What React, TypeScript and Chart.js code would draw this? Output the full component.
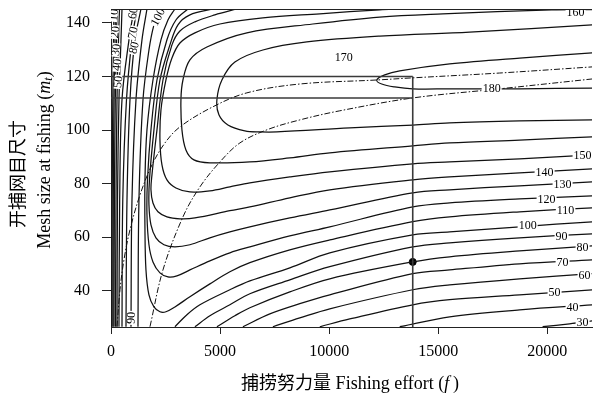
import React, { useEffect, useRef } from 'react';
import { Chart, registerables } from 'chart.js';

Chart.register(...registerables);

// ---- axes ----
const X_MIN = 0;
const X_MAX = 22050;
const Y_MIN = 26.5;
const Y_MAX = 145.2;
const xTickValues = [0, 5000, 10000, 15000, 20000];
const yTickValues = [40, 60, 80, 100, 120, 140];

// ---- rising (left) branches of the low isopleths: effort values at shared mesh sizes ----
const riseM = [26.6, 74.0, 111.3, 133.7, 145.2];
const rise10 = [46, 55, 82, 115, 137];
const rise20 = [92, 105, 137, 183, 206];
const rise30 = [137, 156, 197, 252, 275];
const rise40 = [206, 229, 275, 344, 389];
const rise50 = [275, 298, 366, 458, 504];
const rise60 = [366, 398, 504, 824, 1053];
const rise70 = [504, 540, 710, 962, 1191];
const rise80 = [687, 733, 870, 1099, 1374];
const rise90 = [916, 962, 1145, 1420, 1649];
const rise100F = [1237, 1282, 1466, 1740, 1969, 2244];
const rise100M = [26.6, 74.0, 111.3, 129.9, 139.3, 145.2];

// ---- right (falling) branches: [effort, mesh] ----
const fall30 = [[19786, 26.6], [21022, 27.7], [22076, 28.8]];
const fall40 = [[13236, 26.6], [15526, 30.3], [18732, 32.9], [22076, 34.8]];
const fall50 = [[9572, 26.6], [10946, 29.5], [13832, 34.8], [15526, 36.7], [18732, 38.5], [22076, 40.4]];
const fall60 = [[7420, 26.6], [8656, 29.9], [10030, 33.3], [13832, 40.4], [15526, 42.2], [18732, 44.5], [22076, 46.4]];
const fall70 = [[6046, 26.6], [7282, 31.4], [8656, 35.2], [10030, 38.5], [13832, 46.4], [15526, 47.8], [18732, 50.1], [22076, 51.6]];
const fall80 = [[4855, 26.6], [5679, 30.7], [6366, 33.7], [8198, 39.6], [10030, 44.5], [13832, 50.8], [15526, 52.7], [18732, 54.9], [22076, 56.8]];
const fall90 = [[3847, 26.6], [4534, 30.7], [5450, 34.8], [6366, 38.9], [8198, 44.1], [10030, 49.0], [13832, 56.4], [15526, 57.9], [18732, 59.8], [22076, 61.3]];
const fall100 = [[2931, 26.6], [3481, 31.1], [4076, 34.8], [5450, 40.4], [6366, 43.7], [8198, 48.6], [10030, 54.2], [13832, 60.9], [15526, 62.0], [18732, 63.9], [22076, 65.8]];

// ---- C-shaped isopleths: [effort, mesh] ----
const iso110 = [[2931, 145.2], [2611, 141.1], [2290, 133.7], [1924, 118.7], [1649, 100.1], [1557, 81.4], [1557, 62.8], [1603, 47.8], [1740, 38.5], [1969, 34.0], [2244, 32.2], [2519, 32.2], [2931, 34.0], [3618, 37.8], [4534, 42.6], [5450, 47.1], [6366, 50.5], [8198, 55.3], [10030, 59.0], [13832, 65.8], [15526, 67.6], [18732, 69.5], [22076, 71.0]];
const iso120 = [[3527, 145.2], [2977, 141.1], [2565, 133.7], [2107, 118.7], [1832, 100.1], [1672, 81.4], [1649, 68.4], [1740, 57.2], [1924, 50.8], [2244, 46.7], [2611, 45.2], [3023, 45.6], [3618, 47.8], [4534, 51.2], [5450, 54.2], [6366, 56.4], [8198, 60.5], [10030, 63.9], [13832, 71.3], [15526, 72.8], [18732, 74.3], [22076, 75.5]];
const iso130 = [[4672, 145.2], [3618, 143.0], [3069, 139.3], [2702, 131.8], [2244, 118.7], [1969, 100.1], [1763, 81.4], [1740, 72.1], [1832, 64.6], [2061, 59.8], [2427, 57.2], [2931, 56.4], [3618, 57.2], [4534, 59.8], [5450, 62.0], [6366, 63.9], [8198, 67.2], [10030, 70.2], [13832, 76.6], [15526, 77.7], [18732, 79.2], [22076, 80.7]];
const iso140 = [[5771, 145.2], [4763, 143.0], [3847, 140.4], [3160, 137.0], [2794, 131.8], [2382, 118.7], [2107, 100.1], [1878, 83.3], [1832, 77.7], [1924, 72.8], [2153, 69.5], [2565, 67.6], [3160, 66.9], [3847, 67.2], [5450, 69.9], [6366, 71.3], [8198, 74.7], [10030, 77.7], [13832, 81.4], [15526, 82.5], [18732, 84.0], [22076, 85.5]];
const iso150 = [[13236, 145.2], [12320, 144.9], [9572, 143.4], [6962, 141.9], [4992, 139.6], [3847, 136.3], [3160, 132.5], [2794, 126.9], [2519, 118.7], [2290, 107.5], [2244, 96.3], [2336, 87.0], [2565, 81.4], [2977, 78.4], [3618, 76.9], [4534, 77.3], [5450, 78.8], [6366, 80.3], [8198, 82.5], [10030, 84.4], [13832, 87.4], [15526, 88.1], [18732, 89.3], [22076, 90.8]];
const iso160 = [[22076, 145.0], [20198, 144.9], [15206, 143.4], [12320, 142.2], [9252, 139.6], [6229, 136.3], [4397, 131.0], [3618, 126.2], [3298, 118.7], [3206, 111.3], [3252, 100.1], [3435, 92.6], [3801, 88.9], [4534, 87.8], [6366, 88.1], [8198, 89.6], [10030, 91.5], [13832, 94.1], [15526, 95.2], [18732, 96.3], [22076, 97.5]];
const iso170 = [[22076, 139.3], [16442, 136.6], [12320, 135.1], [8977, 132.9], [6962, 129.9], [5679, 125.4], [5084, 118.7], [4855, 111.3], [4947, 105.7], [5359, 101.9], [6137, 99.7], [6824, 99.3], [7603, 99.3], [10946, 100.8], [13832, 101.9], [15526, 102.7], [18732, 103.4], [22076, 103.8]];
const iso180 = [[22076, 128.8], [18732, 126.9], [15526, 124.7], [13236, 122.1], [12549, 120.6], [12183, 118.7], [12412, 117.2], [13007, 116.1], [13832, 115.4], [15526, 115.4], [18732, 115.4], [22076, 115.7]];

// ---- dash-dot curves ----
const dashCurveA = [[1786, 26.6], [2382, 47.8], [3298, 67.6], [4076, 78.8], [4992, 88.1], [5908, 95.2], [7145, 100.1], [8656, 103.8], [10488, 107.2], [13832, 112.0], [17816, 115.4], [22076, 119.1]];
const dashCurveB = [[275, 26.6], [412, 40.4], [595, 51.6], [870, 62.8], [1328, 75.8], [1878, 87.0], [2473, 95.2], [3160, 101.2], [4672, 108.7], [6229, 113.9], [8656, 117.2], [12183, 118.7], [13832, 119.5], [17816, 121.3], [22076, 123.6]];

// ---- reference lines and point ----
const refEffort = 13832;
const refMeshHigh = 120;
const refMeshLow = 112;
const refPoint = [13832, 50.8];

// ---- contour labels ----
const labelText = ['10', '20', '30', '40', '50', '60', '70', '80', '100', '90', '150', '140', '130', '120', '110', '100', '90', '80', '70', '60', '50', '40', '30', '160', '170', '180'];
const labelF = [137, 183, 229, 275, 321, 1008, 1008, 1053, 2153, 916, 21618, 19877, 20702, 19969, 20839, 19099, 20656, 21618, 20702, 21709, 20335, 21160, 21618, 21297, 10671, 17450];
const labelM = [143.0, 136.6, 129.9, 124.3, 118.0, 143.7, 136.3, 130.7, 142.2, 29.9, 90.4, 84.4, 79.9, 74.3, 70.2, 64.6, 60.5, 56.4, 50.8, 45.6, 39.3, 34.0, 28.1, 144.1, 127.3, 115.4];
const labelRot = [-84, -84, -84, -84, -84, -80, -78, -75, -62, -88, 0, 0, 0, 0, 0, 0, 0, 0, 0, 0, 0, 0, 0, 0, 0, 0];
const labelSize = [12, 12, 12, 12, 12, 12, 12, 12, 12, 12, 12, 12, 12, 12, 12, 12, 12, 12, 12, 12, 12, 12, 12, 12, 12, 12];

const SERIF = '"Liberation Serif", "Times New Roman", "Noto Sans CJK SC", serif';

function pairs(list: number[][]) {
  return list.map(([x, y]) => ({ x, y }));
}
function zipF(fs: number[], ms: number[]) {
  return fs.map((f, i) => ({ x: f, y: ms[i] }));
}

function contour(data: { x: number; y: number }[]) {
  return {
    type: 'scatter' as const,
    data,
    showLine: true,
    pointRadius: 0,
    borderColor: '#111',
    borderWidth: 1.25,
    tension: 0.35,
    fill: false,
  };
}

type Run = { t: string; font: string; dy?: number };
function drawRuns(ctx: CanvasRenderingContext2D, runs: Run[], cx: number, cy: number) {
  let total = 0;
  const widths = runs.map((r) => {
    ctx.font = r.font;
    const w = ctx.measureText(r.t).width;
    total += w;
    return w;
  });
  let x = cx - total / 2;
  ctx.textAlign = 'left';
  ctx.textBaseline = 'middle';
  runs.forEach((r, i) => {
    ctx.font = r.font;
    ctx.fillText(r.t, x, cy + (r.dy || 0));
    x += widths[i];
  });
}

const labelPlugin = {
  id: 'contourLabels',
  afterDatasetsDraw(chart: any) {
    const { ctx, chartArea, scales } = chart;
    ctx.save();
    ctx.beginPath();
    ctx.rect(chartArea.left, chartArea.top, chartArea.right - chartArea.left, chartArea.bottom - chartArea.top);
    ctx.clip();
    ctx.textAlign = 'center';
    ctx.textBaseline = 'middle';
    labelText.forEach((t, i) => {
      const px = scales.x.getPixelForValue(labelF[i]);
      const py = scales.y.getPixelForValue(labelM[i]);
      ctx.save();
      ctx.translate(px, py);
      ctx.rotate((labelRot[i] * Math.PI) / 180);
      ctx.font = `${labelSize[i]}px ${SERIF}`;
      const w = ctx.measureText(t).width;
      const h = labelSize[i] * 0.62;
      ctx.fillStyle = '#fff';
      ctx.fillRect(-w / 2 - 1, -h / 2, w + 2, h);
      ctx.fillStyle = '#000';
      ctx.fillText(t, 0, 0.5);
      ctx.restore();
    });
    ctx.restore();
  },
};

const framePlugin = {
  id: 'frameAndTitles',
  afterDraw(chart: any) {
    const { ctx, chartArea } = chart;
    ctx.save();
    ctx.strokeStyle = '#222';
    ctx.lineWidth = 1;
    ctx.beginPath();
    ctx.moveTo(chartArea.left, chartArea.top + 0.5);
    ctx.lineTo(chartArea.right, chartArea.top + 0.5);
    ctx.stroke();

    ctx.fillStyle = '#000';
    // x title
    drawRuns(
      ctx,
      [
        { t: '捕捞努力量 Fishing effort (', font: `18px ${SERIF}` },
        { t: 'f', font: `italic 18px ${SERIF}` },
        { t: '\u2009)', font: `18px ${SERIF}` },
      ],
      350,
      384
    );
    // y titles (rotated)
    ctx.save();
    ctx.translate(19, 174);
    ctx.rotate(-Math.PI / 2);
    drawRuns(ctx, [{ t: '开捕网目尺寸', font: `18px ${SERIF}` }], 0, 0);
    ctx.restore();

    ctx.save();
    ctx.translate(45, 160);
    ctx.rotate(-Math.PI / 2);
    drawRuns(
      ctx,
      [
        { t: 'Mesh size at fishing (', font: `18px ${SERIF}` },
        { t: 'm', font: `italic 18px ${SERIF}` },
        { t: 't', font: `italic 12px ${SERIF}`, dy: 4 },
        { t: ')', font: `18px ${SERIF}` },
      ],
      0,
      0
    );
    ctx.restore();
    ctx.restore();
  },
};

export default function App() {
  const canvasRef = useRef<HTMLCanvasElement | null>(null);

  useEffect(() => {
    if (!canvasRef.current) return;
    const refColor = '#3a3a3a';
    const datasets: any[] = [
      // reference lines
      { type: 'scatter', data: [{ x: 0, y: refMeshHigh }, { x: refEffort, y: refMeshHigh }], showLine: true, pointRadius: 0, borderColor: refColor, borderWidth: 1.6 },
      { type: 'scatter', data: [{ x: 0, y: refMeshLow }, { x: refEffort, y: refMeshLow }], showLine: true, pointRadius: 0, borderColor: refColor, borderWidth: 1.6 },
      { type: 'scatter', data: [{ x: refEffort, y: refMeshHigh }, { x: refEffort, y: Y_MIN }], showLine: true, pointRadius: 0, borderColor: refColor, borderWidth: 1.6 },
      // rising branches
      contour(zipF(rise10, riseM)),
      contour(zipF(rise20, riseM)),
      contour(zipF(rise30, riseM)),
      contour(zipF(rise40, riseM)),
      contour(zipF(rise50, riseM)),
      contour(zipF(rise60, riseM)),
      contour(zipF(rise70, riseM)),
      contour(zipF(rise80, riseM)),
      contour(zipF(rise90, riseM)),
      contour(zipF(rise100F, rise100M)),
      // falling branches
      contour(pairs(fall30)),
      contour(pairs(fall40)),
      contour(pairs(fall50)),
      contour(pairs(fall60)),
      contour(pairs(fall70)),
      contour(pairs(fall80)),
      contour(pairs(fall90)),
      contour(pairs(fall100)),
      // C-shaped
      contour(pairs(iso110)),
      contour(pairs(iso120)),
      contour(pairs(iso130)),
      contour(pairs(iso140)),
      contour(pairs(iso150)),
      contour(pairs(iso160)),
      contour(pairs(iso170)),
      contour(pairs(iso180)),
      // dash-dot
      { ...contour(pairs(dashCurveA)), borderWidth: 1, borderDash: [6, 2, 1.5, 2], borderColor: '#111' },
      { ...contour(pairs(dashCurveB)), borderWidth: 1, borderDash: [6, 2, 1.5, 2], borderColor: '#111' },
      // point
      { type: 'scatter', data: [{ x: refPoint[0], y: refPoint[1] }], pointRadius: 3.5, pointBackgroundColor: '#000', pointBorderColor: '#000', showLine: false },
    ];

    const tickFont = { family: SERIF, size: 16 };
    const chart = new Chart(canvasRef.current, {
      type: 'scatter',
      data: { datasets },
      options: {
        animation: false,
        responsive: true,
        maintainAspectRatio: false,
        layout: { autoPadding: false, padding: { top: 9, right: 1, left: 0, bottom: 0 } },
        elements: { line: { capBezierPoints: false } },
        plugins: { legend: { display: false }, tooltip: { enabled: false } },
        events: [],
        scales: {
          x: {
            type: 'linear',
            min: X_MIN,
            max: X_MAX,
            afterFit: (s: any) => {
              s.height = 71;
              s.paddingLeft = 0;
              s.paddingRight = 0;
            },
            afterBuildTicks: (s: any) => {
              s.ticks = xTickValues.map((v) => ({ value: v }));
            },
            grid: { drawOnChartArea: false, drawTicks: true, tickLength: 7, color: '#222' },
            border: { display: true, color: '#222', width: 1 },
            ticks: { color: '#000', font: tickFont, padding: 8, maxRotation: 0, callback: (v: any) => String(v) },
          },
          y: {
            type: 'linear',
            min: Y_MIN,
            max: Y_MAX,
            afterFit: (s: any) => {
              s.width = 111;
              s.paddingTop = 0;
              s.paddingBottom = 0;
            },
            afterBuildTicks: (s: any) => {
              s.ticks = yTickValues.map((v) => ({ value: v }));
            },
            grid: { drawOnChartArea: false, drawTicks: true, tickLength: 9, color: '#222' },
            border: { display: true, color: '#222', width: 1 },
            ticks: { color: '#000', font: tickFont, padding: 12, callback: (v: any) => String(v) },
          },
        },
      } as any,
      plugins: [labelPlugin, framePlugin],
    });
    return () => chart.destroy();
  }, []);

  return (
    <div style={{ position: 'fixed', left: 0, top: 0, width: 593, height: 398, background: '#fff' }}>
      <canvas ref={canvasRef} />
    </div>
  );
}
